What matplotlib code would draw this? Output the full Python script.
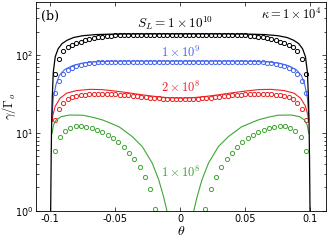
import numpy as np
import matplotlib
matplotlib.use("Agg")
import matplotlib.pyplot as plt

# marker grid for S_L = 1e10, 1e9, 2e8
theta_pts = [-0.0967, -0.0934, -0.0900, -0.0867, -0.0834, -0.0800, -0.0767, -0.0734,
             -0.0700, -0.0667, -0.0634, -0.0600, -0.0567, -0.0534, -0.0500, -0.0467,
             -0.0434, -0.0400, -0.0367, -0.0334, -0.0300, -0.0267, -0.0234, -0.0200,
             -0.0167, -0.0134, -0.0100, -0.0067, -0.0034, 0.0000, 0.0034, 0.0067,
             0.0100, 0.0134, 0.0167, 0.0200, 0.0234, 0.0267, 0.0300, 0.0334,
             0.0367, 0.0400, 0.0434, 0.0467, 0.0500, 0.0534, 0.0567, 0.0600,
             0.0634, 0.0667, 0.0700, 0.0734, 0.0767, 0.0800, 0.0834, 0.0867,
             0.0900, 0.0934, 0.0967]

pts_1e10 = [57, 90, 112, 126, 136, 143, 149, 155, 160, 165, 169, 172, 175, 177, 179,
            180, 181, 182, 182, 183, 183, 183, 183, 183, 183, 183, 183, 183, 183, 183,
            183, 183, 183, 183, 183, 183, 183, 183, 183, 183, 182, 182, 181, 180, 179,
            177, 175, 172, 169, 165, 160, 155, 149, 143, 136, 126, 112, 90, 57]

pts_1e9 = [33, 46, 57, 64, 69, 72.5, 75.5, 77.5, 79, 80, 81, 81.5, 82, 82, 82,
           82, 82, 82, 82, 82, 82, 82, 82, 82, 82, 82, 82, 82, 82, 82,
           82, 82, 82, 82, 82, 82, 82, 82, 82, 82, 82, 82, 82, 82, 82,
           82, 82, 81.5, 81, 80, 79, 77.5, 75.5, 72.5, 69, 64, 57, 46, 33]

pts_2e8 = [14.7, 20.5, 24.5, 27, 28.7, 29.8, 30.5, 31.1, 31.5, 31.8, 31.9, 31.9, 31.8,
           31.6, 31.4, 31.1, 30.7, 30.3, 29.9, 29.5, 29.1, 28.7, 28.3, 28.0, 27.7,
           27.5, 27.3, 27.2, 27.1, 27.0, 27.1, 27.2, 27.3, 27.5, 27.7, 28.0, 28.3,
           28.7, 29.1, 29.5, 29.9, 30.3, 30.7, 31.1, 31.4, 31.6, 31.8, 31.9, 31.9,
           31.8, 31.5, 31.1, 30.5, 29.8, 28.7, 27, 24.5, 20.5, 14.7]

# S_L = 1e8 markers (coarser grid)
theta_pts_1e8 = [-0.0967, -0.0926, -0.0885, -0.0845, -0.0804, -0.0763, -0.0722, -0.0681,
                 -0.0641, -0.0600, -0.0559, -0.0518, -0.0477, -0.0437, -0.0396, -0.0355,
                 -0.0314, -0.0273, -0.0232, -0.0192,
                 0.0192, 0.0232, 0.0273, 0.0314, 0.0355, 0.0396, 0.0437, 0.0477,
                 0.0518, 0.0559, 0.0600, 0.0641, 0.0681, 0.0722, 0.0763, 0.0804,
                 0.0845, 0.0885, 0.0926, 0.0967]
pts_1e8 = [5.9, 9.0, 10.6, 11.6, 12.2, 12.3, 12.1, 11.7, 11.0, 10.2, 9.5, 8.5, 7.7, 6.6,
           5.6, 4.6, 3.7, 2.7, 1.9, 1.07,
           1.07, 1.9, 2.7, 3.7, 4.6, 5.6, 6.6, 7.7, 8.5, 9.5, 10.2, 11.0, 11.7, 12.1,
           12.3, 12.2, 11.6, 10.6, 9.0, 5.9]

# solid curves
theta_l10 = [-0.0997, -0.0993, -0.0990, -0.0985, -0.0977, -0.0962, -0.0940, -0.0910,
             -0.0870, -0.0820, -0.0750, -0.0650, -0.0500, -0.0300, 0.0,
             0.0300, 0.0500, 0.0650, 0.0750, 0.0820, 0.0870, 0.0910, 0.0940,
             0.0962, 0.0977, 0.0985, 0.0990, 0.0993, 0.0997]
line_1e10 = [1, 5, 12, 28, 60, 95, 120, 140, 155, 168, 177, 183, 186, 187, 187,
             187, 186, 183, 177, 168, 155, 140, 120, 95, 60, 28, 12, 5, 1]

theta_l9 = [-0.0988, -0.0977, -0.0956, -0.0930, -0.0890, -0.0830, -0.0760, -0.0680,
            -0.0550, -0.0350, 0.0, 0.0350, 0.0550, 0.0680, 0.0760, 0.0830, 0.0890,
            0.0930, 0.0956, 0.0977, 0.0988]
line_1e9 = [15, 28, 42, 55, 65, 73, 78.5, 81.5, 83, 83.5, 83.5, 83.5, 83, 81.5, 78.5,
            73, 65, 55, 42, 28, 15]

theta_l8b = [-0.0985, -0.0980, -0.0962, -0.0924, -0.0873, -0.0797, -0.0695, -0.0600,
             -0.0500, -0.0400, -0.0300, -0.0200, -0.0100, 0.0, 0.0100, 0.0200,
             0.0300, 0.0400, 0.0500, 0.0600, 0.0695, 0.0797, 0.0873, 0.0924,
             0.0962, 0.0980, 0.0985]
line_2e8 = [14, 17, 22, 28, 32.5, 35, 36.3, 36, 34.5, 32.8, 31, 29.5, 28.4, 28, 28.4,
            29.5, 31, 32.8, 34.5, 36, 36.3, 35, 32.5, 28, 22, 17, 14]

theta_l8 = [-0.0987, -0.0975, -0.0954, -0.0916, -0.0853, -0.0750, -0.0674, -0.0598,
            -0.0471, -0.0370, -0.0293, -0.0216, -0.0166, -0.0128, -0.0103, 0.0,
            0.0103, 0.0128, 0.0166, 0.0216, 0.0293, 0.0370, 0.0471, 0.0598,
            0.0674, 0.0750, 0.0853, 0.0916, 0.0954, 0.0975, 0.0987]
line_1e8 = [9.9, 12.7, 14.7, 16.2, 17, 16.9, 15.9, 14.7, 12, 9, 6.7, 4.1, 2.5, 1.5, 1.0,
            np.nan,
            1.0, 1.5, 2.5, 4.1, 6.7, 9, 12, 14.7, 15.9, 16.9, 17, 16.2, 14.7, 12.7, 9.9]

c_black = 'black'
c_blue = '#4466ee'
c_red = '#ee2222'
c_green = '#3fa535'

fig = plt.figure(figsize=(3.27, 2.43), dpi=100)
ax = fig.add_axes([0.110, 0.132, 0.887, 0.860])

mk = dict(marker='o', ls='none', mfc='none', ms=3.0, mew=0.7)
ax.plot(theta_pts, pts_1e10, color=c_black, **mk)
ax.plot(theta_pts, pts_1e9, color=c_blue, **mk)
ax.plot(theta_pts, pts_2e8, color=c_red, **mk)
ax.plot(theta_pts_1e8, pts_1e8, color=c_green, **mk)

ax.plot(theta_l9, line_1e9, color=c_blue, lw=0.8)
ax.plot(theta_l8b, line_2e8, color=c_red, lw=0.8)
ax.plot(theta_l8, line_1e8, color=c_green, lw=0.8)
ax.plot(theta_l10, line_1e10, color=c_black, lw=0.9)

ax.set_yscale('log')
ax.set_xlim(-0.111, 0.112)
ax.set_ylim(1, 480)
ax.set_xticks([-0.1, -0.05, 0, 0.05, 0.1])
ax.set_xticklabels(['-0.1', '-0.05', '0', '0.05', '0.1'])
ax.tick_params(which='both', direction='in', top=True, right=True, labelsize=7,
               width=0.5, pad=2)
ax.tick_params(which='major', length=3)
ax.tick_params(which='minor', length=1.8)
for s in ax.spines.values():
    s.set_linewidth(0.6)

ax.set_xlabel(r'$\theta$', fontsize=10, math_fontfamily='cm', labelpad=0)
ax.set_ylabel(r'$\gamma/\Gamma_o$', fontsize=9, math_fontfamily='cm')
ax.yaxis.set_label_coords(-0.062, 0.5)

ax.text(0.018, 0.93, '(b)', transform=ax.transAxes, fontsize=9,
        family='DejaVu Serif', ha='left', va='center')
ax.text(-0.0044, 257, r'$S_L = 1\times10^{10}$', color=c_black, fontsize=9.5,
        math_fontfamily='cm', ha='center', va='center')
ax.text(0.109, 330, r'$\mathbf{\kappa} = 1\times10^4$', color=c_black, fontsize=9,
        math_fontfamily='cm', ha='right', va='center')
ax.text(0.0005, 109, r'$1\times10^9$', color=c_blue, fontsize=9,
        math_fontfamily='cm', ha='center', va='center')
ax.text(0.0005, 38, r'$2\times10^8$', color=c_red, fontsize=9,
        math_fontfamily='cm', ha='center', va='center')
ax.text(0.0005, 3.07, r'$1\times10^8$', color=c_green, fontsize=9,
        math_fontfamily='cm', ha='center', va='center')

fig.savefig('out.png', dpi=100)
